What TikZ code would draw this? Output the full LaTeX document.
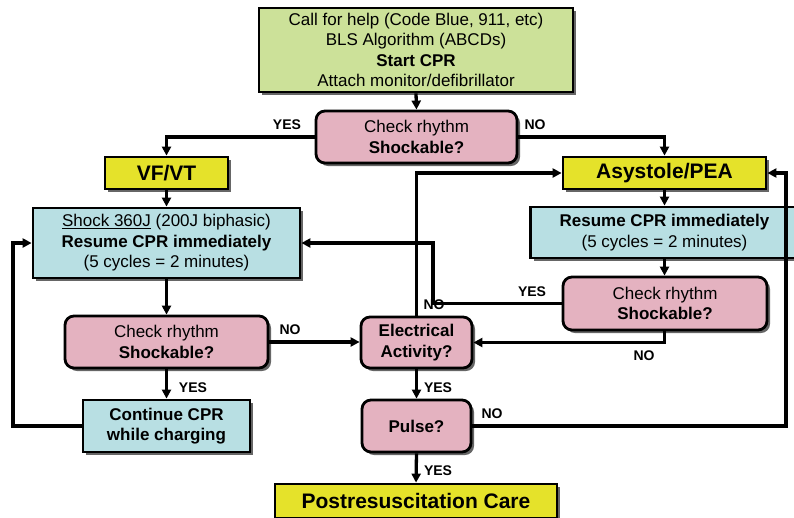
\documentclass[tikz,border=0pt]{standalone}
\usepackage{fontspec}
\setmainfont{Liberation Sans}
\usetikzlibrary{arrows.meta,shadows}
\definecolor{boxgreen}{RGB}{204,225,153}
\definecolor{boxyellow}{RGB}{229,226,42}
\definecolor{boxpink}{RGB}{228,178,192}
\definecolor{boxblue}{RGB}{184,223,227}
\begin{document}
\begin{tikzpicture}[
  x=1pt, y=-1pt,
  box/.style={draw, line width=2.8pt, align=center, inner sep=0pt,
    font=\fontsize{17}{20.5}\selectfont,
    drop shadow={shadow xshift=3pt, shadow yshift=-3pt, fill=black!60, opacity=1}},
  sq/.style={box, rectangle},
  rd/.style={box, rectangle, rounded corners=9pt, fill=boxpink},
  big/.style={sq, fill=boxyellow, font=\fontsize{21}{24}\selectfont\bfseries},
  lab/.style={font=\fontsize{14}{16}\selectfont\bfseries, inner sep=0pt},
  e/.style={line width=3.3pt, -{Triangle[length=9pt,width=9pt]}}
]
\useasboundingbox (0,0) rectangle (794,517);

\node[sq, fill=boxgreen, minimum width=314pt, minimum height=84pt] (help) at (416,50)
  {Call for help (Code Blue, 911, etc)\\BLS Algorithm (ABCDs)\\\textbf{Start CPR}\\Attach monitor/defibrillator};
\node[rd, minimum width=201pt, minimum height=52pt] (chk1) at (416.5,137) {Check rhythm\\\textbf{Shockable?}};
\node[big, minimum width=123pt, minimum height=32pt] (vfvt) at (166.5,173) {VF/VT};
\node[big, minimum width=203pt, minimum height=32pt] (asys) at (664.5,173) {Asystole/PEA};
\node[sq, fill=boxblue, minimum width=267pt, minimum height=70pt] (shock) at (166.5,243)
  {\underline{Shock 360J} (200J biphasic)\\\textbf{Resume CPR immediately}\\(5 cycles = 2 minutes)};
\node[sq, fill=boxblue, minimum width=268pt, minimum height=51pt] (resume) at (664.5,232.5)
  {\textbf{Resume CPR immediately}\\(5 cycles = 2 minutes)};
\node[rd, minimum width=204pt, minimum height=53pt] (chk2) at (665,303.5) {Check rhythm\\\textbf{Shockable?}};
\node[rd, minimum width=203pt, minimum height=52pt] (chk3) at (166.5,342) {Check rhythm\\\textbf{Shockable?}};
\node[rd, minimum width=111pt, minimum height=51pt, font=\fontsize{17}{20.5}\selectfont\bfseries] (elec) at (416.5,342.5) {Electrical\\Activity?};
\node[sq, fill=boxblue, minimum width=167pt, minimum height=52pt, font=\fontsize{17}{20.5}\selectfont\bfseries] (cont) at (166.5,426) {Continue CPR\\while charging};
\node[rd, minimum width=109pt, minimum height=52pt, font=\fontsize{17}{20.5}\selectfont\bfseries] (pulse) at (416.5,426) {Pulse?};
\node[big, minimum width=282pt, minimum height=34pt] (post) at (416,501) {Postresuscitation Care};

\coordinate (j1) at (433,243);
\coordinate (j2) at (13,243);
\coordinate (j3) at (786,173);

% connectors
\draw[e] (help.south) -- (chk1.north);
\draw[e] (chk1.west) -| (vfvt.north);
\draw[e] (chk1.east) -| (asys.north);
\draw[e] (vfvt.south) -- (shock.north);
\draw[e] (asys.south) -- (resume.north);
\draw[e] (resume.south) -- (resume.south |- chk2.north);
\draw[e] (chk2.west) -| (j1) -- (shock.east);
\draw[e] (chk2.south -| resume.south) |- (elec.east);
\draw[e] (shock.south) -- (chk3.north);
\draw[e] (chk3.east) -- (chk3.east -| elec.west);
\draw[e] (chk3.south) -- (cont.north);
\draw[e] (cont.west) -| (j2) -- (shock.west);
\draw[e] (elec.north) |- (asys.west);
\draw[e] (elec.south) -- (pulse.north);
\draw[e] (pulse.east) -| (j3) -- (asys.east);
\draw[e] (pulse.south) -- (post.north);

% labels
\node[lab] (y1) at (287,125) {YES};
\node[lab] (n1) at (535,125) {NO};
\node[lab] (n2) at (290,330) {NO};
\node[lab] (y2) at (193,388) {YES};
\node[lab] (y3) at (532,292) {YES};
\node[lab] (n3) at (434,305) {NO};
\node[lab] (n4) at (644,356) {NO};
\node[lab] (y4) at (438,388) {YES};
\node[lab] (n5) at (492,414) {NO};
\node[lab] (y5) at (438,471) {YES};
\end{tikzpicture}
\end{document}
